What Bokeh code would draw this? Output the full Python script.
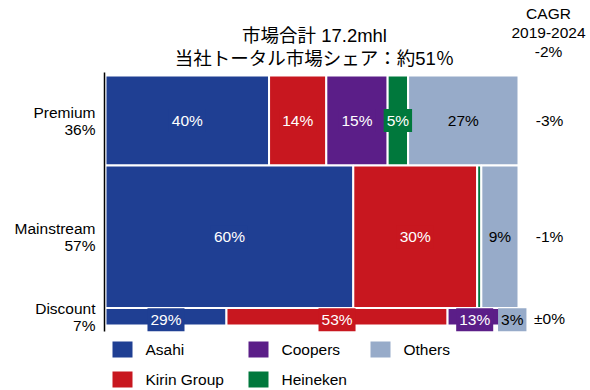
from bokeh.plotting import figure
from bokeh.models import Range1d, ColumnDataSource
from bokeh.core.properties import value
from bokeh.embed import file_html
from bokeh.resources import INLINE

# ---------------- data ----------------
segments = ["Premium", "Mainstream", "Discount"]
segment_share = [36, 57, 7]
segment_cagr = ["-3%", "-1%", "±0%"]
companies = ["Asahi", "Kirin Group", "Coopers", "Heineken", "Others"]
colors = ["#1f3f93", "#c8171f", "#5b1e88", "#00783c", "#97abc9"]
premium = [40, 14, 15, 5, 27]
mainstream = [60, 30, 0, 1, 9]
discount = [29, 53, 13, 1, 3]
title_lines = ["市場合計 17.2mhl", "当社トータル市場シェア：約51％"]
cagr_header = ["CAGR", "2019-2024", "-2%"]

rows = [premium, mainstream, discount]

# ---------------- layout helpers (page pixels -> data) ----------------
W, H = 590, 390
OX, OY = 0, 0
BX0, BX1 = 105, 518
BY0, BY1 = 325, 75


def dx(px):
    return (px - BX0) / (BX1 - BX0)


def dy(py):
    return (BY0 - py) / (BY0 - BY1)


def hy(pixels):
    return pixels / (BY0 - BY1)


FONT = value("'Liberation Sans', 'Noto Sans CJK JP', sans-serif")
FS = "15.5px"

p = figure(width=W, height=H,
           x_range=Range1d(dx(OX), dx(OX + W)),
           y_range=Range1d(dy(OY + H), dy(OY)),
           x_axis_type=None, y_axis_type=None,
           output_backend="svg", toolbar_location=None,
           min_border=0, outline_line_color=None)
p.grid.visible = False
p.background_fill_color = "white"
p.border_fill_color = "white"

# ---------------- mekko bars ----------------
total_share = sum(segment_share)
bars = dict(left=[], right=[], bottom=[], top=[], color=[])
labs = dict(x=[], y=[], text=[], tcolor=[], bg=[])
row_centers = []
top = 1.0
for ri, (seg, share, vals) in enumerate(zip(segments, segment_share, rows)):
    h = share / total_share
    bottom = top - h
    row_centers.append((top + bottom) / 2)
    s = sum(vals)
    left = 0.0
    for ci, v in enumerate(vals):
        w = v / s
        if v > 0:
            bars["left"].append(left)
            bars["right"].append(left + w)
            bars["bottom"].append(bottom)
            bars["top"].append(top)
            bars["color"].append(colors[ci])
        if v >= 2:
            yc = (top + bottom) / 2
            if seg == "Discount":
                yc -= hy(3)
            labs["x"].append(left + w / 2)
            labs["y"].append(yc)
            labs["text"].append(f"{v}%")
            labs["tcolor"].append("black" if companies[ci] == "Others" else "white")
            labs["bg"].append(colors[ci])
        left += w
    top = bottom

p.quad(left="left", right="right", bottom="bottom", top="top",
       fill_color="color", line_color="white", line_width=2,
       source=ColumnDataSource(bars))

p.text(x="x", y="y", text="text", text_color="tcolor",
       background_fill_color="bg", padding=3,
       text_align="center", text_baseline="middle",
       text_font=FONT, text_font_size=FS,
       source=ColumnDataSource(labs))

# left axis line
p.segment(x0=[dx(104)], y0=[dy(331)], x1=[dx(104)], y1=[dy(72)],
          line_color="black", line_width=1.5)

# row labels (two lines each)
p.text(x=[dx(95)] * len(segments), y=[c + hy(8.5) for c in row_centers],
       text=segments,
       text_align="right", text_baseline="middle",
       text_font=FONT, text_font_size=FS, text_color="black")
p.text(x=[dx(95)] * len(segments), y=[c - hy(8.5) for c in row_centers],
       text=[f"{v}%" for v in segment_share],
       text_align="right", text_baseline="middle",
       text_font=FONT, text_font_size=FS, text_color="black")

# CAGR column
cagr_y = list(row_centers)
cagr_y[-1] -= hy(2)
p.text(x=[dx(549)] * len(segments), y=cagr_y, text=segment_cagr,
       text_align="center", text_baseline="middle",
       text_font=FONT, text_font_size=FS, text_color="black")
p.text(x=[dx(548)] * 3, y=[dy(13), dy(32), dy(51)], text=cagr_header,
       text_align="center", text_baseline="middle",
       text_font=FONT, text_font_size=FS, text_color="black")

# title
p.text(x=[dx(314)] * 2, y=[dy(35), dy(58)], text=title_lines,
       text_align="center", text_baseline="middle",
       text_font=FONT, text_font_size="18.5px", text_color="black")

# legend
leg_cols = [112, 248, 370]
leg_rows = [349, 379]
lg = dict(left=[], right=[], bottom=[], top=[], color=[])
lt = dict(x=[], y=[], text=[])
for i, (name, col) in enumerate(zip(companies, colors)):
    cx = leg_cols[i // 2]
    cy = leg_rows[i % 2]
    lg["left"].append(dx(cx))
    lg["right"].append(dx(cx + 20))
    lg["bottom"].append(dy(cy + 8))
    lg["top"].append(dy(cy - 8))
    lg["color"].append(col)
    lt["x"].append(dx(cx + 33))
    lt["y"].append(dy(cy))
    lt["text"].append(name)
p.quad(left="left", right="right", bottom="bottom", top="top",
       fill_color="color", line_color=None, source=ColumnDataSource(lg))
p.text(x="x", y="y", text="text", text_align="left", text_baseline="middle",
       text_font=FONT, text_font_size=FS, text_color="black",
       source=ColumnDataSource(lt))

open("out.html", "w").write(file_html(p, INLINE))
